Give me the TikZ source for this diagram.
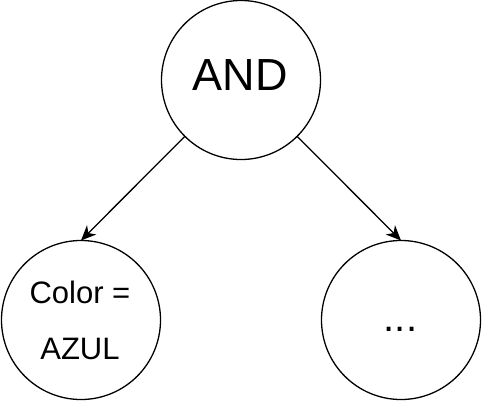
\documentclass[tikz,border=0pt]{standalone}
\usepackage{fontspec}
\setmainfont{Liberation Sans}
\usetikzlibrary{arrows.meta}
\begin{document}
\begin{tikzpicture}[x=1pt,y=-1pt,
  circ/.style={draw, circle, line width=1.3pt, minimum size=159pt, inner sep=0pt, outer sep=0pt},
  lbl/.style={inner sep=0pt, anchor=base},
  conn/.style={draw, line width=1.3pt, -{Stealth[length=15pt,width=13pt,inset=4.5pt]}}]
\useasboundingbox (0,0) rectangle (482,402);
\node[circ] (and) at (241,80) {};
\node[circ] (color) at (81,320) {};
\node[circ] (dots) at (401,320) {};
\node[lbl, font=\fontsize{45}{54}\selectfont] (andtxt) at (240,90) {AND};
\node[lbl, font=\fontsize{31}{37}\selectfont] (colortxt) at (80,303) {Color =};
\node[lbl, font=\fontsize{31}{37}\selectfont] (azultxt) at (80,359) {AZUL};
\node[lbl, font=\fontsize{40}{48}\selectfont] (dotstxt) at (400.5,331) {...};
\draw[conn] (and) -- (color.north);
\draw[conn] (and) -- (dots.north);
\end{tikzpicture}
\end{document}
